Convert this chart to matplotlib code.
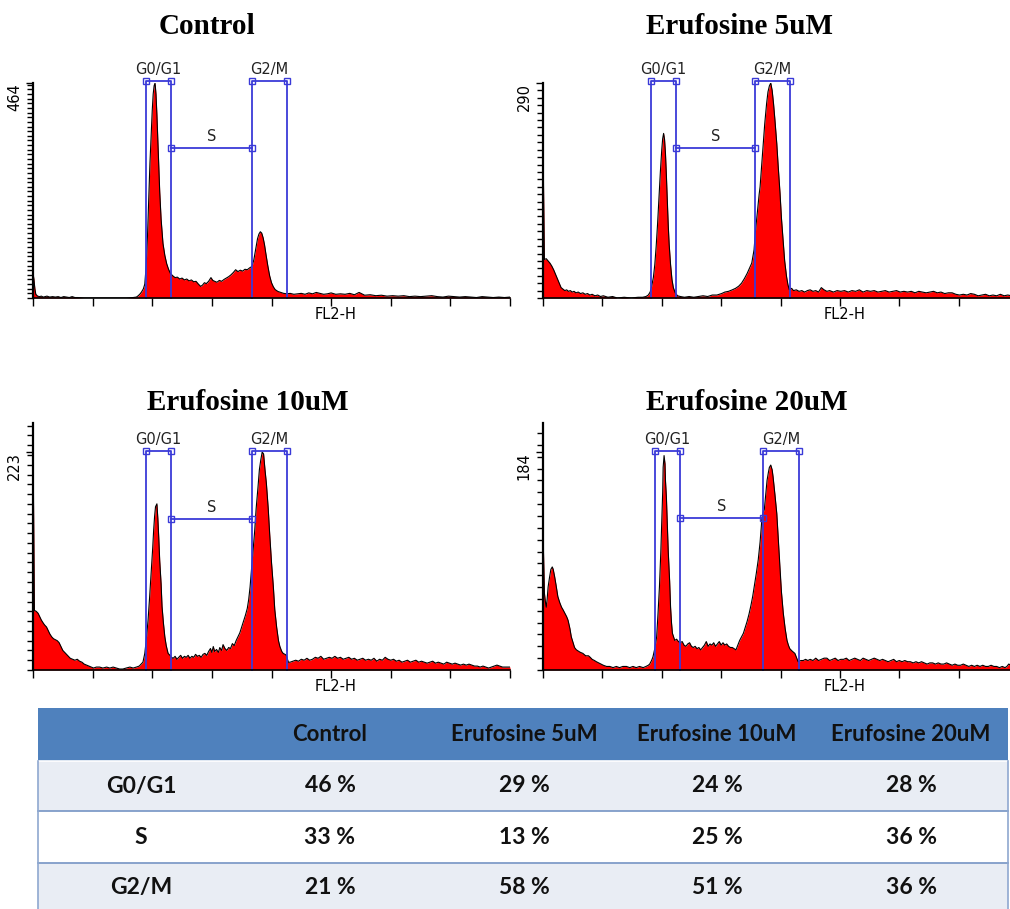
import matplotlib
matplotlib.use('Agg')
import matplotlib.pyplot as plt
from matplotlib.patches import Rectangle
from matplotlib.ticker import MultipleLocator

# =========================
# Datos
# =========================
titles = ['Control', 'Erufosine 5uM', 'Erufosine 10uM', 'Erufosine 20uM']

# histograma Control (canal FL2-H, cuentas)
ctrl_ch = [0, 2, 4, 6, 10, 14, 18, 22, 26, 30, 36, 42, 48, 54, 60, 66, 72, 78, 84, 90,
           96, 110, 140, 170, 200, 215, 222, 226, 230, 233, 237, 240, 243, 246, 249, 251, 254, 256, 258, 260,
           262, 264, 266, 268, 270, 272, 275, 279, 283, 287, 291, 295, 300, 305, 310, 315, 320, 325, 330, 335,
           340, 345, 350, 355, 360, 364, 368, 372, 377, 382, 386, 390, 395, 400, 405, 410, 415, 420, 425, 430,
           435, 440, 445, 450, 455, 460, 465, 470, 474, 478, 482, 485, 488, 491, 494, 497, 500, 504, 508, 512,
           516, 520, 526, 532, 538, 545, 552, 560, 568, 576, 584, 592, 600, 608, 616, 624, 632, 640, 650, 660,
           670, 680, 690, 700, 712, 724, 736, 748, 760, 772, 784, 796, 808, 820, 832, 844, 856, 868, 880, 892,
           904, 916, 928, 940, 952, 964, 976, 988, 1000, 1012, 1024]
ctrl_n = [54, 40, 20, 8, 4, 3, 4, 2, 3, 4, 2, 3, 2, 3, 1, 3, 2, 1, 3, 1,
          1, 0, 0, 0, 0, 1, 2, 5, 9, 13, 20, 30, 70, 140, 230, 290, 360, 405, 440, 458,
          464, 440, 395, 340, 285, 230, 170, 118, 92, 74, 62, 53, 48, 44, 45, 41, 43, 39, 41, 37,
          39, 35, 36, 30, 25, 28, 33, 31, 36, 44, 38, 36, 34, 38, 36, 40, 43, 46, 50, 55,
          61, 57, 60, 58, 62, 61, 65, 68, 82, 105, 128, 138, 143, 140, 130, 115, 95, 70, 48, 33,
          24, 18, 14, 12, 10, 9, 10, 8, 9, 10, 8, 11, 9, 12, 10, 8, 9, 11, 8, 9,
          8, 10, 7, 12, 6, 7, 5, 6, 4, 5, 4, 5, 3, 4, 3, 4, 5, 3, 2, 4,
          3, 2, 3, 2, 1, 3, 2, 1, 2, 1, 2]

# histograma Erufosine 5uM
e5_ch = [0, 1, 3, 7, 11, 15, 19, 23, 27, 31, 35, 39, 43, 47, 51, 55, 59, 63, 67, 71,
         76, 81, 86, 91, 96, 101, 106, 112, 118, 124, 130, 140, 150, 160, 175, 190, 205, 215, 222, 227,
         231, 234, 238, 241, 244, 247, 250, 253, 256, 258, 260, 262, 264, 266, 268, 270, 272, 275, 278, 281,
         285, 290, 296, 305, 315, 325, 335, 345, 355, 365, 375, 385, 392, 400, 408, 415, 422, 428, 434, 440,
         445, 450, 455, 458, 462, 466, 468, 471, 475, 478, 482, 485, 488, 491, 494, 497, 500, 504, 507, 511,
         514, 518, 521, 525, 528, 531, 536, 540, 546, 552, 558, 564, 570, 576, 582, 588, 594, 600, 606, 612,
         618, 626, 634, 642, 650, 658, 666, 674, 682, 690, 698, 706, 714, 722, 730, 738, 746, 754, 762, 770,
         778, 786, 794, 802, 810, 818, 826, 834, 842, 850, 858, 866, 874, 882, 890, 898, 906, 914, 922, 930,
         938, 946, 954, 962, 970, 978, 986, 994, 1002, 1010, 1024]
e5_n = [258, 155, 52, 53, 50, 47, 43, 38, 32, 26, 20, 14, 12, 10, 11, 9, 10, 8, 9, 7,
        8, 6, 7, 5, 6, 4, 5, 3, 4, 2, 3, 1, 2, 0, 1, 0, 1, 1, 2, 4,
        8, 15, 28, 45, 70, 100, 135, 170, 200, 215, 222, 214, 195, 165, 130, 98, 72, 45, 25, 14,
        7, 3, 2, 1, 2, 1, 2, 3, 2, 4, 4, 6, 8, 9, 11, 13, 16, 20, 26, 33,
        40, 47, 65, 90, 115, 140, 150, 175, 208, 235, 262, 278, 286, 290, 280, 262, 240, 208, 178, 141,
        108, 74, 50, 29, 18, 11, 13, 10, 11, 9, 10, 8, 10, 11, 9, 10, 8, 14, 11, 9,
        10, 8, 10, 9, 10, 8, 10, 9, 11, 8, 10, 9, 10, 8, 9, 10, 8, 9, 10, 8,
        9, 8, 9, 7, 9, 8, 7, 8, 9, 7, 8, 6, 7, 7, 5, 4, 5, 4, 6, 5,
        3, 4, 5, 3, 4, 3, 5, 3, 4, 3, 3]

# histograma Erufosine 10uM
e10_ch = [0, 1, 3, 7, 11, 15, 18, 22, 25, 29, 33, 36, 40, 44, 48, 52, 56, 60, 64, 68,
          72, 76, 80, 85, 90, 95, 100, 105, 110, 115, 120, 125, 130, 136, 143, 150, 158, 165, 172, 179,
          186, 193, 200, 208, 215, 222, 228, 232, 236, 240, 243, 247, 250, 254, 257, 259, 261, 263, 266, 268,
          270, 272, 275, 277, 280, 283, 286, 290, 294, 297, 301, 305, 309, 313, 317, 321, 325, 329, 333, 337,
          341, 345, 349, 353, 357, 361, 365, 369, 373, 377, 381, 384, 387, 390, 394, 398, 401, 405, 408, 412,
          416, 420, 424, 428, 432, 436, 440, 444, 448, 452, 456, 460, 463, 466, 469, 472, 476, 479, 483, 486,
          489, 492, 495, 498, 501, 505, 508, 512, 516, 519, 523, 527, 530, 534, 537, 541, 544, 548, 552, 558,
          564, 570, 576, 582, 588, 594, 600, 606, 612, 618, 624, 630, 636, 642, 648, 654, 660, 666, 672, 678,
          684, 690, 696, 702, 708, 714, 720, 726, 732, 738, 744, 750, 756, 762, 768, 774, 780, 786, 792, 798,
          804, 810, 816, 822, 828, 834, 840, 846, 852, 858, 864, 870, 876, 882, 888, 894, 900, 906, 912, 918,
          924, 930, 936, 942, 948, 954, 960, 966, 972, 978, 984, 990, 996, 1002, 1008, 1014, 1024]
e10_n = [300, 177, 61, 60, 58, 54, 51, 48, 46, 44, 40, 37, 34, 32, 31, 30, 28, 24, 20, 18,
         16, 14, 12, 11, 10, 11, 9, 8, 6, 5, 4, 3, 2, 3, 3, 2, 3, 2, 3, 2,
         1, 1, 2, 3, 2, 3, 4, 6, 8, 17, 30, 51, 72, 102, 125, 143, 157, 167, 170, 155,
         135, 112, 88, 65, 48, 34, 25, 17, 15, 13, 12, 14, 11, 13, 15, 12, 14, 13, 15, 12,
         14, 13, 16, 14, 15, 13, 16, 17, 15, 19, 22, 18, 24, 19, 21, 18, 23, 20, 26, 22,
         20, 23, 22, 27, 25, 30, 34, 38, 44, 50, 56, 63, 72, 85, 102, 120, 143, 165, 187, 205,
         215, 223, 221, 205, 191, 165, 140, 110, 85, 62, 44, 30, 24, 19, 17, 16, 15, 8, 8, 9,
         10, 9, 11, 10, 12, 10, 11, 13, 12, 14, 11, 12, 13, 12, 14, 12, 13, 11, 12, 13,
         11, 12, 10, 11, 12, 10, 11, 10, 12, 9, 11, 10, 13, 11, 10, 11, 9, 10, 8, 9,
         10, 8, 9, 10, 8, 9, 8, 7, 8, 9, 7, 8, 7, 6, 8, 7, 6, 7, 6, 5,
         6, 5, 6, 5, 4, 4, 3, 4, 3, 2, 3, 4, 5, 4, 3, 3, 3]

# histograma Erufosine 20uM
e20_ch = [0, 1, 3, 5, 7, 9, 11, 14, 17, 20, 22, 25, 28, 32, 36, 40, 43, 47, 51, 54,
          58, 61, 65, 68, 72, 76, 80, 86, 92, 98, 101, 106, 111, 115, 120, 125, 130, 137, 144, 151,
          158, 165, 172, 180, 187, 194, 201, 208, 216, 222, 227, 230, 234, 237, 241, 245, 248, 251, 254, 256,
          258, 259, 261, 263, 264, 266, 268, 270, 273, 275, 277, 279, 284, 288, 292, 296, 300, 304, 308, 312,
          316, 320, 324, 328, 332, 336, 340, 344, 348, 352, 356, 360, 364, 368, 372, 376, 380, 384, 388, 392,
          396, 400, 404, 408, 412, 416, 420, 424, 428, 432, 436, 440, 444, 448, 452, 456, 460, 464, 468, 472,
          475, 477, 480, 483, 486, 488, 491, 494, 496, 500, 504, 507, 511, 514, 518, 522, 526, 529, 532, 537,
          543, 547, 550, 556, 561, 566, 571, 576, 582, 588, 594, 600, 606, 612, 618, 624, 630, 636, 642, 648,
          654, 660, 666, 672, 678, 684, 690, 696, 702, 708, 714, 720, 726, 732, 738, 744, 750, 756, 762, 768,
          774, 780, 786, 792, 798, 804, 810, 816, 822, 828, 834, 840, 846, 852, 858, 864, 870, 876, 882, 888,
          894, 900, 906, 912, 918, 924, 930, 936, 942, 948, 954, 960, 966, 972, 978, 984, 990, 996, 1000, 1004,
          1010, 1024]
e20_n = [300, 100, 65, 58, 53, 60, 70, 78, 85, 87, 85, 79, 72, 62, 57, 53, 51, 48, 45, 42,
         35, 28, 23, 19, 17, 16, 15, 14, 12, 12, 11, 9, 8, 7, 6, 5, 4, 3, 3, 2,
         3, 2, 3, 3, 2, 3, 2, 3, 2, 3, 4, 5, 8, 11, 18, 28, 48, 70, 100, 126,
         150, 171, 181, 174, 160, 146, 122, 100, 75, 53, 40, 31, 25, 26, 24, 23, 24, 21, 20, 22,
         23, 20, 19, 20, 18, 19, 17, 19, 21, 24, 20, 22, 21, 23, 20, 22, 24, 21, 23, 21,
         22, 20, 19, 19, 18, 17, 21, 25, 28, 31, 36, 41, 47, 54, 62, 72, 82, 93, 108, 128,
         134, 135, 148, 160, 167, 171, 173, 169, 163, 148, 132, 112, 84, 66, 48, 35, 25, 21, 18, 16,
         14, 10, 7, 8, 8, 9, 8, 9, 8, 10, 8, 9, 10, 10, 8, 9, 10, 8, 9, 9,
         10, 8, 9, 10, 9, 8, 10, 9, 8, 9, 10, 9, 8, 9, 8, 7, 8, 9, 7, 8,
         7, 8, 7, 7, 6, 7, 6, 7, 6, 5, 6, 6, 5, 6, 5, 5, 6, 5, 4, 5,
         4, 4, 5, 4, 3, 4, 3, 4, 3, 4, 3, 3, 4, 3, 3, 2, 3, 2, 3, 5,
         4, 3]

# etiquetas de eje Y (maximo) y compuertas
y_max = [464, 290, 223, 184]
y_lim = [464, 290, 252.7, 208.5]
gate_g1 = [(242, 296), (233, 287), (242, 296), (241, 296)]
gate_g2m = [(470, 545), (458, 532), (470, 545), (475, 551)]
gate_top = [468, 293, 224, 185]
gate_s = [324, 202, 154, 128]

# tabla
row_names = ['G0/G1', 'S', 'G2/M']
g0g1_pct = [46, 29, 24, 28]
s_pct = [33, 13, 25, 36]
g2m_pct = [21, 58, 51, 36]

# =========================
# Figura
# =========================
W, H = 1010, 909
fig = plt.figure(figsize=(W / 100, H / 100), dpi=100)
tfont = ['Lato', 'DejaVu Sans']


def box(x0, y0, x1, y1):
    return [x0 / W, 1 - y1 / H, (x1 - x0) / W, (y1 - y0) / H]


boxes = [box(33, 83, 510, 298), box(543, 83, 1018, 298),
         box(33, 423, 510, 670), box(543, 423, 1018, 670)]
title_pos = [(207, 26), (740, 26), (248, 403), (747, 403)]
hists = [(ctrl_ch, ctrl_n), (e5_ch, e5_n), (e10_ch, e10_n), (e20_ch, e20_n)]

blue = '#3a3ad8'
for i in range(4):
    ax = fig.add_axes(boxes[i])
    ch, n = hists[i]
    ax.fill_between(ch, n, 0, color='#ff0000', lw=0)
    ax.plot(ch, n, color='black', lw=0.8)
    ax.set_xlim(0, 1024)
    ax.set_ylim(0, y_lim[i])

    for sp in ['top', 'right']:
        ax.spines[sp].set_visible(False)
    ax.spines['left'].set_linewidth(1.6)
    ax.spines['bottom'].set_linewidth(1.2)
    ax.set_xticks(range(0, 1025, 128))
    ax.set_xticklabels([])
    ax.tick_params(axis='x', length=6, width=1)
    ax.set_yticks([y_max[i]])
    ax.set_yticklabels([str(y_max[i])], rotation=90, va='top', fontsize=10.5)
    ax.yaxis.set_minor_locator(MultipleLocator(10))
    ax.tick_params(axis='y', which='major', length=5, width=1, pad=3)
    ax.tick_params(axis='y', which='minor', length=4, width=1)

    # compuertas
    for (lo, hi), lab in zip([gate_g1[i], gate_g2m[i]], ['G0/G1', 'G2/M']):
        top = gate_top[i]
        ax.plot([lo, lo, hi, hi], [0, top, top, 0], color=blue, lw=1.3, clip_on=False)
        ax.plot([lo, hi], [top, top], 's', ms=4, mfc='none', mec=blue, mew=1, clip_on=False)
        ax.annotate(lab, ((lo + hi) / 2, top), xytext=(0, 3), textcoords='offset points',
                    ha='center', va='bottom', fontsize=10.5, color='#222222',
                    annotation_clip=False)
    sx = [gate_g1[i][1], gate_g2m[i][0]]
    ax.plot(sx, [gate_s[i]] * 2, '-s', color=blue, lw=1.3, ms=4, mfc='none', mew=1)
    ax.annotate('S', (sum(sx) / 2, gate_s[i]), xytext=(0, 3), textcoords='offset points',
                ha='center', va='bottom', fontsize=10.5, color='#222222')

    ax.annotate('FL2-H', (650, 0), xycoords=('data', 'axes fraction'), xytext=(0, -12),
                textcoords='offset points', ha='center', va='center', fontsize=10.5,
                annotation_clip=False)

    fig.text(title_pos[i][0] / W, 1 - title_pos[i][1] / H, titles[i], ha='center', va='center',
             fontsize=21, fontweight='bold', family='Liberation Serif')

# =========================
# Tabla
# =========================
axt = fig.add_axes([0, 0, 1, 1])
axt.set_xlim(0, W)
axt.set_ylim(H, 0)
axt.axis('off')

tl, tr = 38, 1008
row_edges = [708, 761, 811, 863, 915]
col_x = [141, 330, 524, 717, 911]
fills = ['#4f81bd', '#e9edf4', '#ffffff', '#e9edf4']
for k in range(4):
    axt.add_patch(Rectangle((tl, row_edges[k]), tr - tl, row_edges[k + 1] - row_edges[k],
                            facecolor=fills[k], edgecolor='none'))
for yy in row_edges[2:4]:
    axt.plot([tl, tr], [yy, yy], color='#7f9cc8', lw=1.3)
axt.plot([tl, tr], [row_edges[1], row_edges[1]], color='white', lw=1.2)
axt.plot([tl, tl], [row_edges[1], H], color='#8fa8d0', lw=1.2)
axt.plot([tr, tr], [row_edges[1], H], color='#8fa8d0', lw=1.2)

hy = (row_edges[0] + row_edges[1]) / 2
for j, name in enumerate(titles):
    axt.text(col_x[j + 1], hy, name, ha='center', va='center', fontsize=16,
             fontweight='bold', family=tfont, color='#111111')
for r, (name, vals) in enumerate(zip(row_names, [g0g1_pct, s_pct, g2m_pct])):
    yy = (row_edges[r + 1] + min(row_edges[r + 2], 912)) / 2
    axt.text(col_x[0], yy, name, ha='center', va='center', fontsize=16.5,
             fontweight='bold', family=tfont, color='#111111')
    for j, v in enumerate(vals):
        axt.text(col_x[j + 1], yy, f'{v} %', ha='center', va='center', fontsize=16.5,
                 fontweight='bold', family=tfont, color='#111111')

fig.savefig('out.png', dpi=100)
